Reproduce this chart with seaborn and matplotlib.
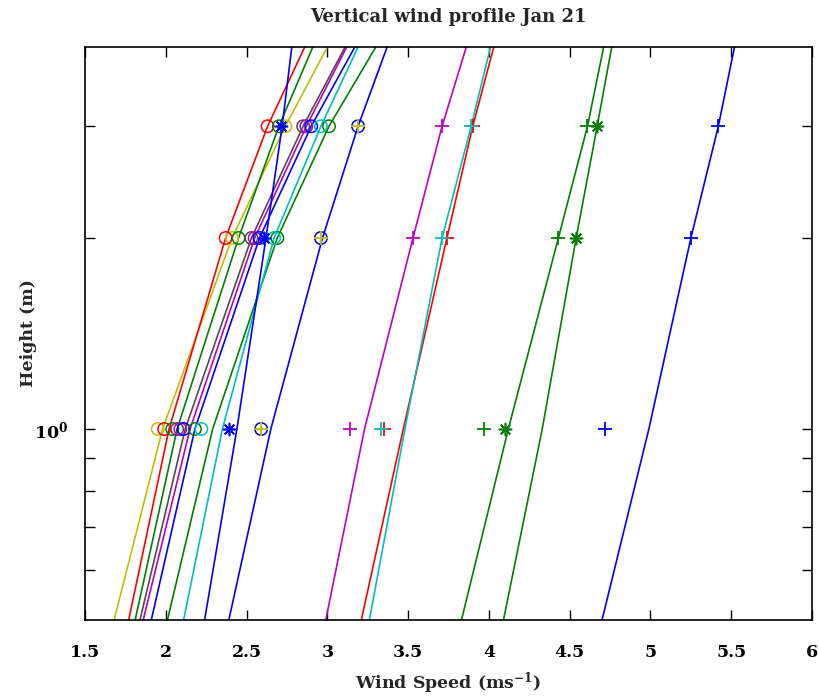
import matplotlib
matplotlib.use("Agg")
import matplotlib.pyplot as plt
import seaborn as sns
import pandas as pd
from matplotlib.ticker import FixedLocator, NullFormatter

# heights (m) at which the fitted profiles and the observations are given
fit_heights = [0.5, 1, 2, 3, 4]
obs_heights = [1, 2, 3]

# fitted profiles, wind speed (m/s) at fit_heights
fit_yellow = [1.68, 1.98, 2.41, 2.74, 3.00]
fit_red = [1.77, 2.02, 2.37, 2.63, 2.86]
fit_green1 = [1.81, 2.07, 2.45, 2.70, 2.91]
fit_grey = [1.84, 2.12, 2.53, 2.85, 3.11]
fit_magenta = [1.86, 2.15, 2.55, 2.87, 3.12]
fit_blue1 = [1.91, 2.18, 2.58, 2.90, 3.17]
fit_green2 = [2.01, 2.29, 2.69, 3.01, 3.30]
fit_cyan = [2.11, 2.35, 2.67, 2.96, 3.19]
fit_blue_star = [2.24, 2.44, 2.62, 2.72, 2.78]
fit_blue2 = [2.39, 2.65, 2.97, 3.19, 3.37]
fit_magenta_plus = [2.99, 3.23, 3.53, 3.71, 3.86]
fit_red_plus = [3.21, 3.47, 3.74, 3.90, 4.03]
fit_cyan_plus = [3.26, 3.48, 3.71, 3.89, 4.01]
fit_green_plus = [3.83, 4.12, 4.43, 4.61, 4.71]
fit_green_star = [4.09, 4.33, 4.54, 4.67, 4.76]
fit_blue_plus = [4.70, 4.99, 5.25, 5.42, 5.52]

# observed wind speed (m/s) at obs_heights
obs_yellow = [1.95, 2.41, 2.74]
obs_red = [1.99, 2.37, 2.63]
obs_green1 = [2.04, 2.45, 2.70]
obs_grey = [2.07, 2.53, 2.85]
obs_magenta = [2.09, 2.55, 2.87]
obs_blue1 = [2.11, 2.58, 2.90]
obs_green2 = [2.18, 2.69, 3.01]
obs_cyan = [2.22, 2.67, 2.96]
obs_blue_star = [2.39, 2.61, 2.71]
obs_blue2 = [2.59, 2.96, 3.19]
obs_yellow_plus = [2.59, 2.96, 3.19]
obs_magenta_plus = [3.14, 3.53, 3.71]
obs_red_plus = [3.35, 3.74, 3.90]
obs_cyan_plus = [3.33, 3.71, 3.89]
obs_green_plus = [3.97, 4.43, 4.61]
obs_green_star = [4.10, 4.54, 4.67]
obs_blue_plus = [4.72, 5.25, 5.42]

grey = (0.3, 0.3, 0.3)

profiles = [
    (fit_yellow, "y"), (fit_red, "r"), (fit_green1, "g"), (fit_grey, grey),
    (fit_magenta, "m"), (fit_blue1, "b"), (fit_green2, "g"), (fit_cyan, "c"),
    (fit_blue_star, "b"), (fit_blue2, "b"), (fit_magenta_plus, "m"),
    (fit_red_plus, "r"), (fit_cyan_plus, "c"), (fit_green_plus, "g"),
    (fit_green_star, "g"), (fit_blue_plus, "b"),
]

observations = [
    (obs_yellow, "y", "o"), (obs_red, "r", "o"), (obs_green1, "g", "o"),
    (obs_grey, grey, "o"), (obs_magenta, "m", "o"), (obs_blue1, "b", "o"),
    (obs_green2, "g", "o"), (obs_cyan, "c", "o"), (obs_blue_star, "b", "*"),
    (obs_blue2, "b", "o"), (obs_yellow_plus, "y", "+"),
    (obs_magenta_plus, "m", "+"), (obs_red_plus, "r", "+"),
    (obs_cyan_plus, "c", "+"), (obs_green_plus, "g", "+"),
    (obs_green_star, "g", "*"), (obs_blue_plus, "b", "+"),
]

sns.set_style("ticks")
plt.rcParams["font.family"] = ["DejaVu Serif"]
plt.rcParams["font.weight"] = "bold"
plt.rcParams["mathtext.fontset"] = "dejavuserif"

fig = plt.figure(figsize=(8.2, 6.98), dpi=100)
ax = fig.add_axes([0.1037, 0.1117, 0.8866, 0.821])

for speeds, col in profiles:
    df = pd.DataFrame({"speed": speeds, "height": fit_heights})
    sns.lineplot(data=df, x="speed", y="height", color=col, linewidth=1.2,
                 sort=False, estimator=None, ax=ax)

for speeds, col, mk in observations:
    df = pd.DataFrame({"speed": speeds, "height": obs_heights})
    if mk == "o":
        sns.scatterplot(data=df, x="speed", y="height", marker="o", s=80,
                        color=col, facecolor="none", edgecolor=col,
                        linewidth=1.1, ax=ax, zorder=3)
    elif mk == "+":
        sns.scatterplot(data=df, x="speed", y="height", marker="+", s=110,
                        color=col, linewidth=1.3, ax=ax, zorder=3)
    else:
        # asterisk made of spokes, like the original '*' marker
        sns.scatterplot(data=df, x="speed", y="height", marker=(8, 2, 0), s=75,
                        color=col, linewidth=1.2, ax=ax, zorder=3)

ax.set_yscale("log")
ax.set_xlim(1.5, 6)
ax.set_ylim(0.5, 4)

xt = [1.5, 2, 2.5, 3, 3.5, 4, 4.5, 5, 5.5, 6]
ax.set_xticks(xt)
ax.set_xticklabels(["1.5", "2", "2.5", "3", "3.5", "4", "4.5", "5", "5.5", "6"])
ax.yaxis.set_major_locator(FixedLocator([1]))
ax.set_yticklabels([r"$\mathbf{10^{0}}$"])
ax.yaxis.set_minor_locator(FixedLocator([0.6, 0.7, 0.8, 0.9, 2, 3]))
ax.yaxis.set_minor_formatter(NullFormatter())

ax.tick_params(which="both", direction="in", top=True, right=True,
               length=7, width=1, colors="black", labelsize=12.5)
ax.tick_params(axis="x", pad=17)
ax.tick_params(axis="y", pad=12)
for sp in ax.spines.values():
    sp.set_linewidth(1.2)
    sp.set_color("black")

ax.set_title("Vertical wind profile Jan 21", fontsize=13, fontweight="bold", pad=18)
ax.set_xlabel(r"Wind Speed (ms$^{\mathbf{-1}}$)", fontsize=12.5, fontweight="bold", labelpad=7)
ax.set_ylabel("Height (m)", fontsize=12.5, fontweight="bold", labelpad=-2)

fig.savefig("out.png", dpi=100)
